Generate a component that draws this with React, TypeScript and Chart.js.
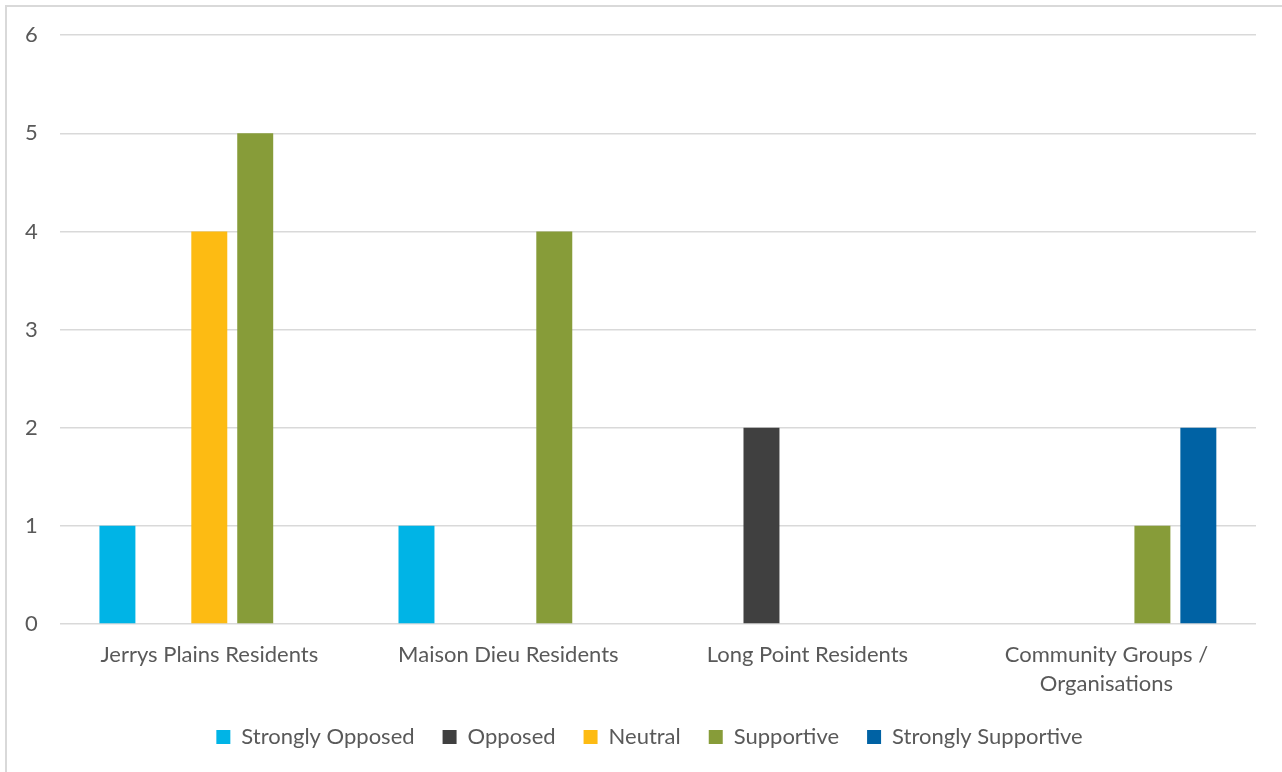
import React, { useEffect, useRef } from "react";
import { Chart, registerables } from "chart.js";

Chart.register(...registerables);

const categories: (string | string[])[] = [
  "Jerrys Plains Residents",
  "Maison Dieu Residents",
  "Long Point Residents",
  ["Community Groups /", "Organisations"],
];
const stronglyOpposed = [1, 1, 0, 0];
const opposed = [0, 0, 2, 0];
const neutral = [4, 0, 0, 0];
const supportive = [5, 4, 0, 1];
const stronglySupportive = [0, 0, 0, 2];
const yTicks = [0, 1, 2, 3, 4, 5, 6];

const FONT = "Lato, 'Open Sans', sans-serif";
const TEXT = "#595959";

const legendShift = {
  id: "legendShift",
  afterLayout(chart: any) {
    if (chart.legend) chart.legend.left += 40;
  },
};

export default function App() {
  const ref = useRef<HTMLCanvasElement | null>(null);
  useEffect(() => {
    document.body.style.margin = "0";
    document.body.style.overflow = "hidden";
    const ctx = ref.current!;
    const ds = (label: string, data: number[], color: string) => ({
      label,
      data,
      backgroundColor: color,
      borderWidth: 0,
      barPercentage: 0.783,
      categoryPercentage: 0.768,
    });
    const chart = new Chart(ctx, {
      type: "bar",
      data: {
        labels: categories,
        datasets: [
          ds("Strongly Opposed", stronglyOpposed, "#00B4E6"),
          ds("Opposed", opposed, "#404040"),
          ds("Neutral", neutral, "#FDBB13"),
          ds("Supportive", supportive, "#879C39"),
          ds("Strongly Supportive", stronglySupportive, "#0062A4"),
        ],
      },
      plugins: [legendShift],
      options: {
        responsive: false,
        animation: false,
        layout: { padding: { left: 3, right: 26, top: 32, bottom: 14 } },
        plugins: {
          tooltip: { enabled: false },
          legend: {
            position: "bottom",
            labels: {
              color: TEXT,
              font: { family: FONT, size: 22 },
              boxWidth: 14,
              boxHeight: 14,
              padding: 28,
            },
          },
        },
        scales: {
          x: {
            grid: { display: false },
            border: { display: false },
            afterFit: (axis: any) => {
              axis.height = 74;
            },
            ticks: {
              color: TEXT,
              font: { family: FONT, size: 22, lineHeight: 1.33 },
              maxRotation: 0,
              autoSkip: false,
              padding: 8,
            },
          },
          y: {
            min: 0,
            max: 6,
            afterBuildTicks: (axis: any) => {
              axis.ticks = yTicks.map((v) => ({ value: v }));
            },
            grid: { color: "#D9D9D9", lineWidth: 1.5, drawTicks: false },
            border: { display: false },
            ticks: {
              color: TEXT,
              font: { family: FONT, size: 22 },
              padding: 22,
            },
          },
        },
      },
    });
    return () => chart.destroy();
  }, []);
  return (
    <div style={{ position: "relative", width: 1282, height: 772, overflow: "hidden", background: "#fff" }}>
      <div
        style={{
          position: "absolute",
          left: 5,
          top: 5,
          width: 1300,
          height: 800,
          border: "2px solid #D9D9D9",
          boxSizing: "border-box",
        }}
      />
      <canvas ref={ref} width={1282} height={772} style={{ position: "absolute", left: 0, top: 0 }} />
    </div>
  );
}
